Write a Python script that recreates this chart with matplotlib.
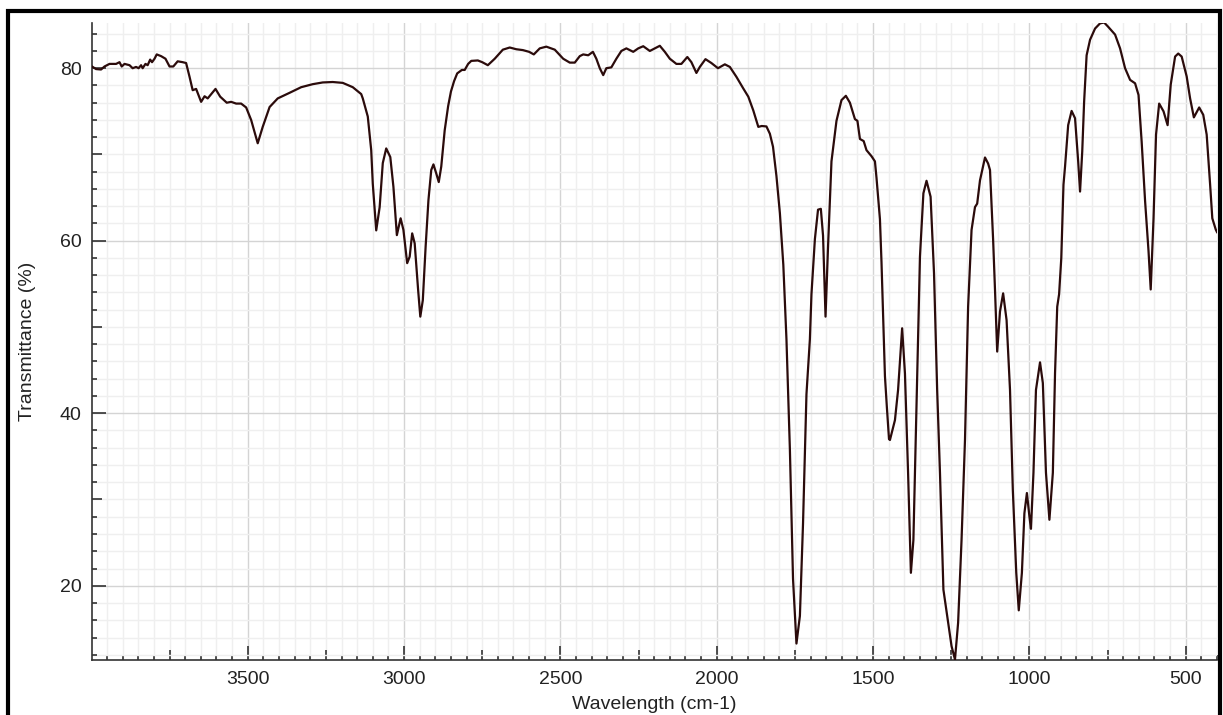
#!/usr/bin/env python3
"""IR spectrum (transmittance vs wavenumber)"""

import matplotlib.pyplot as plt
import matplotlib.patches as patches
from matplotlib.ticker import MultipleLocator, FuncFormatter

plt.rcParams['font.family'] = ['Liberation Sans', 'DejaVu Sans']

# wavenumber (cm-1)
wavenumber = [
    3998, 3985, 3969, 3958, 3942, 3921, 3910, 3903, 3894, 3878, 3868, 3857,
    3849, 3841, 3836, 3827, 3820, 3812, 3806, 3798, 3791, 3777, 3763, 3750,
    3738, 3724, 3708, 3697, 3686, 3676, 3665, 3649, 3638, 3628, 3603, 3588,
    3567, 3553, 3537, 3521, 3505, 3489, 3468, 3452, 3430, 3404, 3366, 3329,
    3292, 3260, 3228, 3196, 3164, 3137, 3132, 3116, 3105, 3100, 3089, 3078,
    3068, 3057, 3044, 3034, 3023, 3011, 3002, 2990, 2982, 2974, 2966, 2955,
    2948, 2940, 2931, 2922, 2913, 2906, 2897, 2889, 2881, 2870, 2859, 2850,
    2840, 2830, 2815, 2806, 2795, 2785, 2764, 2750, 2732, 2710, 2684, 2662,
    2641, 2620, 2600, 2585, 2566, 2545, 2518, 2491, 2470, 2454, 2438, 2427,
    2411, 2396, 2385, 2374, 2363, 2353, 2337, 2321, 2305, 2289, 2267, 2251,
    2235, 2214, 2198, 2182, 2166, 2150, 2129, 2113, 2094, 2081, 2065, 2054,
    2036, 2017, 1996, 1974, 1958, 1937, 1915, 1899, 1883, 1867, 1856, 1841,
    1830, 1820, 1809, 1798, 1787, 1777, 1766, 1756, 1745, 1734, 1724, 1713,
    1702, 1697, 1686, 1676, 1667, 1660, 1652, 1644, 1633, 1617, 1601, 1587,
    1574, 1558, 1550, 1542, 1530, 1521, 1505, 1494, 1489, 1478, 1473, 1467,
    1462, 1456, 1449, 1446, 1430, 1420, 1407, 1398, 1388, 1379, 1371, 1361,
    1350, 1339, 1329, 1316, 1305, 1295, 1286, 1275, 1263, 1249, 1238, 1228,
    1217, 1206, 1196, 1185, 1174, 1167, 1158, 1142, 1132, 1126, 1116, 1110,
    1103, 1094, 1084, 1073, 1062, 1053, 1042, 1034, 1024, 1016, 1008, 1000,
    995, 987, 979, 966, 957, 947, 936, 925, 918, 911, 905, 898, 891, 886,
    876, 865, 854, 844, 838, 831, 825, 817, 806, 790, 774, 761, 748, 726,
    710, 694, 678, 662, 651, 641, 630, 619, 612, 603, 595, 585, 571, 558,
    548, 534, 524, 513, 497, 486, 474, 457, 444, 433, 422, 415, 404, 400,
]

# transmittance (%)
transmittance = [
    80.2, 79.9, 79.85, 80.2, 80.5, 80.5, 80.7, 80.2, 80.5, 80.35, 80.0, 80.15,
    80.0, 80.35, 80.0, 80.5, 80.35, 81.0, 80.7, 81.1, 81.6, 81.4, 81.1, 80.2,
    80.2, 80.8, 80.7, 80.6, 79.0, 77.45, 77.6, 76.1, 76.75, 76.5, 77.6, 76.7,
    76.0, 76.1, 75.9, 75.9, 75.45, 74.0, 71.3, 73.2, 75.5, 76.5, 77.15, 77.8,
    78.15, 78.35, 78.4, 78.3, 77.8, 77.0, 76.5, 74.4, 70.5, 66.6, 61.2, 63.9,
    69.0, 70.7, 69.7, 66.25, 60.65, 62.6, 61.25, 57.4, 58.15, 60.85, 59.7, 54.3,
    51.2, 53.1, 59.3, 64.7, 68.2, 68.85, 67.8, 66.8, 68.6, 72.8, 75.6, 77.3,
    78.5, 79.4, 79.8, 79.8, 80.5, 80.85, 80.9, 80.7, 80.35, 81.1, 82.15, 82.4,
    82.2, 82.1, 81.9, 81.6, 82.3, 82.5, 82.15, 81.1, 80.65, 80.65, 81.4, 81.6,
    81.5, 81.9, 81.1, 80.0, 79.2, 80.0, 80.1, 81.1, 82.0, 82.3, 81.9, 82.3,
    82.55, 82.0, 82.3, 82.6, 81.9, 81.1, 80.5, 80.5, 81.3, 80.7, 79.45, 80.15,
    81.05, 80.6, 80.0, 80.45, 80.15, 79.0, 77.65, 76.7, 75.1, 73.2, 73.3, 73.25,
    72.4, 70.9, 67.5, 63.2, 57.2, 48.6, 35.8, 20.8, 13.3, 16.5, 27.2, 42.2,
    48.6, 53.8, 60.2, 63.6, 63.7, 60.6, 51.2, 59.3, 69.2, 73.9, 76.3, 76.8,
    76.0, 74.1, 73.9, 71.8, 71.55, 70.5, 69.8, 69.2, 67.3, 62.5, 57.5, 50.4,
    44.3, 40.8, 37.0, 36.9, 39.2, 42.7, 49.85, 44.6, 33.1, 21.5, 25.3, 40.8,
    58.15, 65.5, 66.95, 65.1, 56.2, 42.7, 33.1, 19.55, 16.5, 13.0, 11.45, 15.7,
    25.3, 36.9, 52.35, 61.25, 63.9, 64.3, 67.0, 69.65, 68.95, 68.2, 60.1, 54.3,
    47.15, 51.8, 53.9, 50.8, 42.7, 31.1, 21.5, 17.15, 21.5, 28.4, 30.75, 28.05,
    26.6, 33.1, 42.7, 45.9, 43.5, 33.1, 27.65, 33.1, 44.65, 52.35, 53.8, 58.0, 66.5, 68.6,
    73.4, 75.05, 74.2, 69.2, 65.7, 70.35, 76.1, 81.5, 83.3, 84.6, 85.2, 85.3, 84.8, 83.9,
    82.3, 80.0, 78.65, 78.25, 76.9, 71.5, 64.6, 58.8, 54.35, 62.6, 72.3, 75.9, 75.0, 73.4,
    78.1, 81.35, 81.7, 81.35, 79.05, 76.5, 74.3, 75.45, 74.6, 72.3, 66.5, 62.6, 61.3, 61.0,
]

W, H = 1223, 715
fig = plt.figure(figsize=(W / 100, H / 100), dpi=100)
ax = fig.add_axes([92 / W, 1 - 659.5 / H, 1125 / W, 637 / H])

ax.plot(wavenumber, transmittance, color='#2b0b0b', linewidth=1.6, zorder=3,
        solid_joinstyle='round')
ax.set_xlim(max(wavenumber), min(wavenumber))
ax.set_ylim(min(transmittance), max(transmittance))

# ticks: major every 500 / 20, medium every 250 / 10, minor every 50 / 2
ax.xaxis.set_major_locator(MultipleLocator(250))
ax.xaxis.set_minor_locator(MultipleLocator(50))
ax.yaxis.set_major_locator(MultipleLocator(10))
ax.yaxis.set_minor_locator(MultipleLocator(2))
ax.xaxis.set_major_formatter(FuncFormatter(lambda v, p: f'{v:.0f}' if v % 500 == 0 else ''))
ax.yaxis.set_major_formatter(FuncFormatter(lambda v, p: f'{v:.0f}' if v % 20 == 0 else ''))

ax.grid(which='minor', color='#efefef', linewidth=1)
ax.grid(which='major', color='#d4d4d4', linewidth=1)
ax.set_axisbelow(True)

ax.tick_params(which='both', direction='in', color='#333333', width=1.2)
ax.tick_params(which='major', length=10, labelsize=14, labelcolor='#222222')
ax.tick_params(which='minor', length=3.5)
ax.tick_params(axis='x', pad=8.5)
ax.tick_params(axis='y', pad=7.5)

for tick, v in zip(ax.xaxis.get_major_ticks(), ax.xaxis.get_majorticklocs()):
    if v % 500:
        tick.tick1line.set_markersize(7)
        tick.gridline.set_color('#efefef')
for tick, v in zip(ax.yaxis.get_major_ticks(), ax.yaxis.get_majorticklocs()):
    if v % 20:
        tick.tick1line.set_markersize(7)
        tick.gridline.set_color('#efefef')

for side in ['top', 'right']:
    ax.spines[side].set_visible(False)
for side in ['left', 'bottom']:
    ax.spines[side].set_color('#333333')
    ax.spines[side].set_linewidth(1.2)

ax.set_xlabel('Wavelength (cm-1)', fontsize=14, color='#222222')
ax.set_ylabel('Transmittance (%)', fontsize=14, color='#222222')
ax.xaxis.set_label_coords(0.5, -0.057)
ax.yaxis.set_label_coords(-0.05, 0.5)

# black frame round the figure
frame = patches.Rectangle((8 / W, -0.1), (1220 - 8) / W, 1.1 - 11 / H,
                          transform=fig.transFigure, fill=False, ec='black',
                          linewidth=3, zorder=10, clip_on=False)
fig.add_artist(frame)

fig.savefig('out.png', dpi=100)
